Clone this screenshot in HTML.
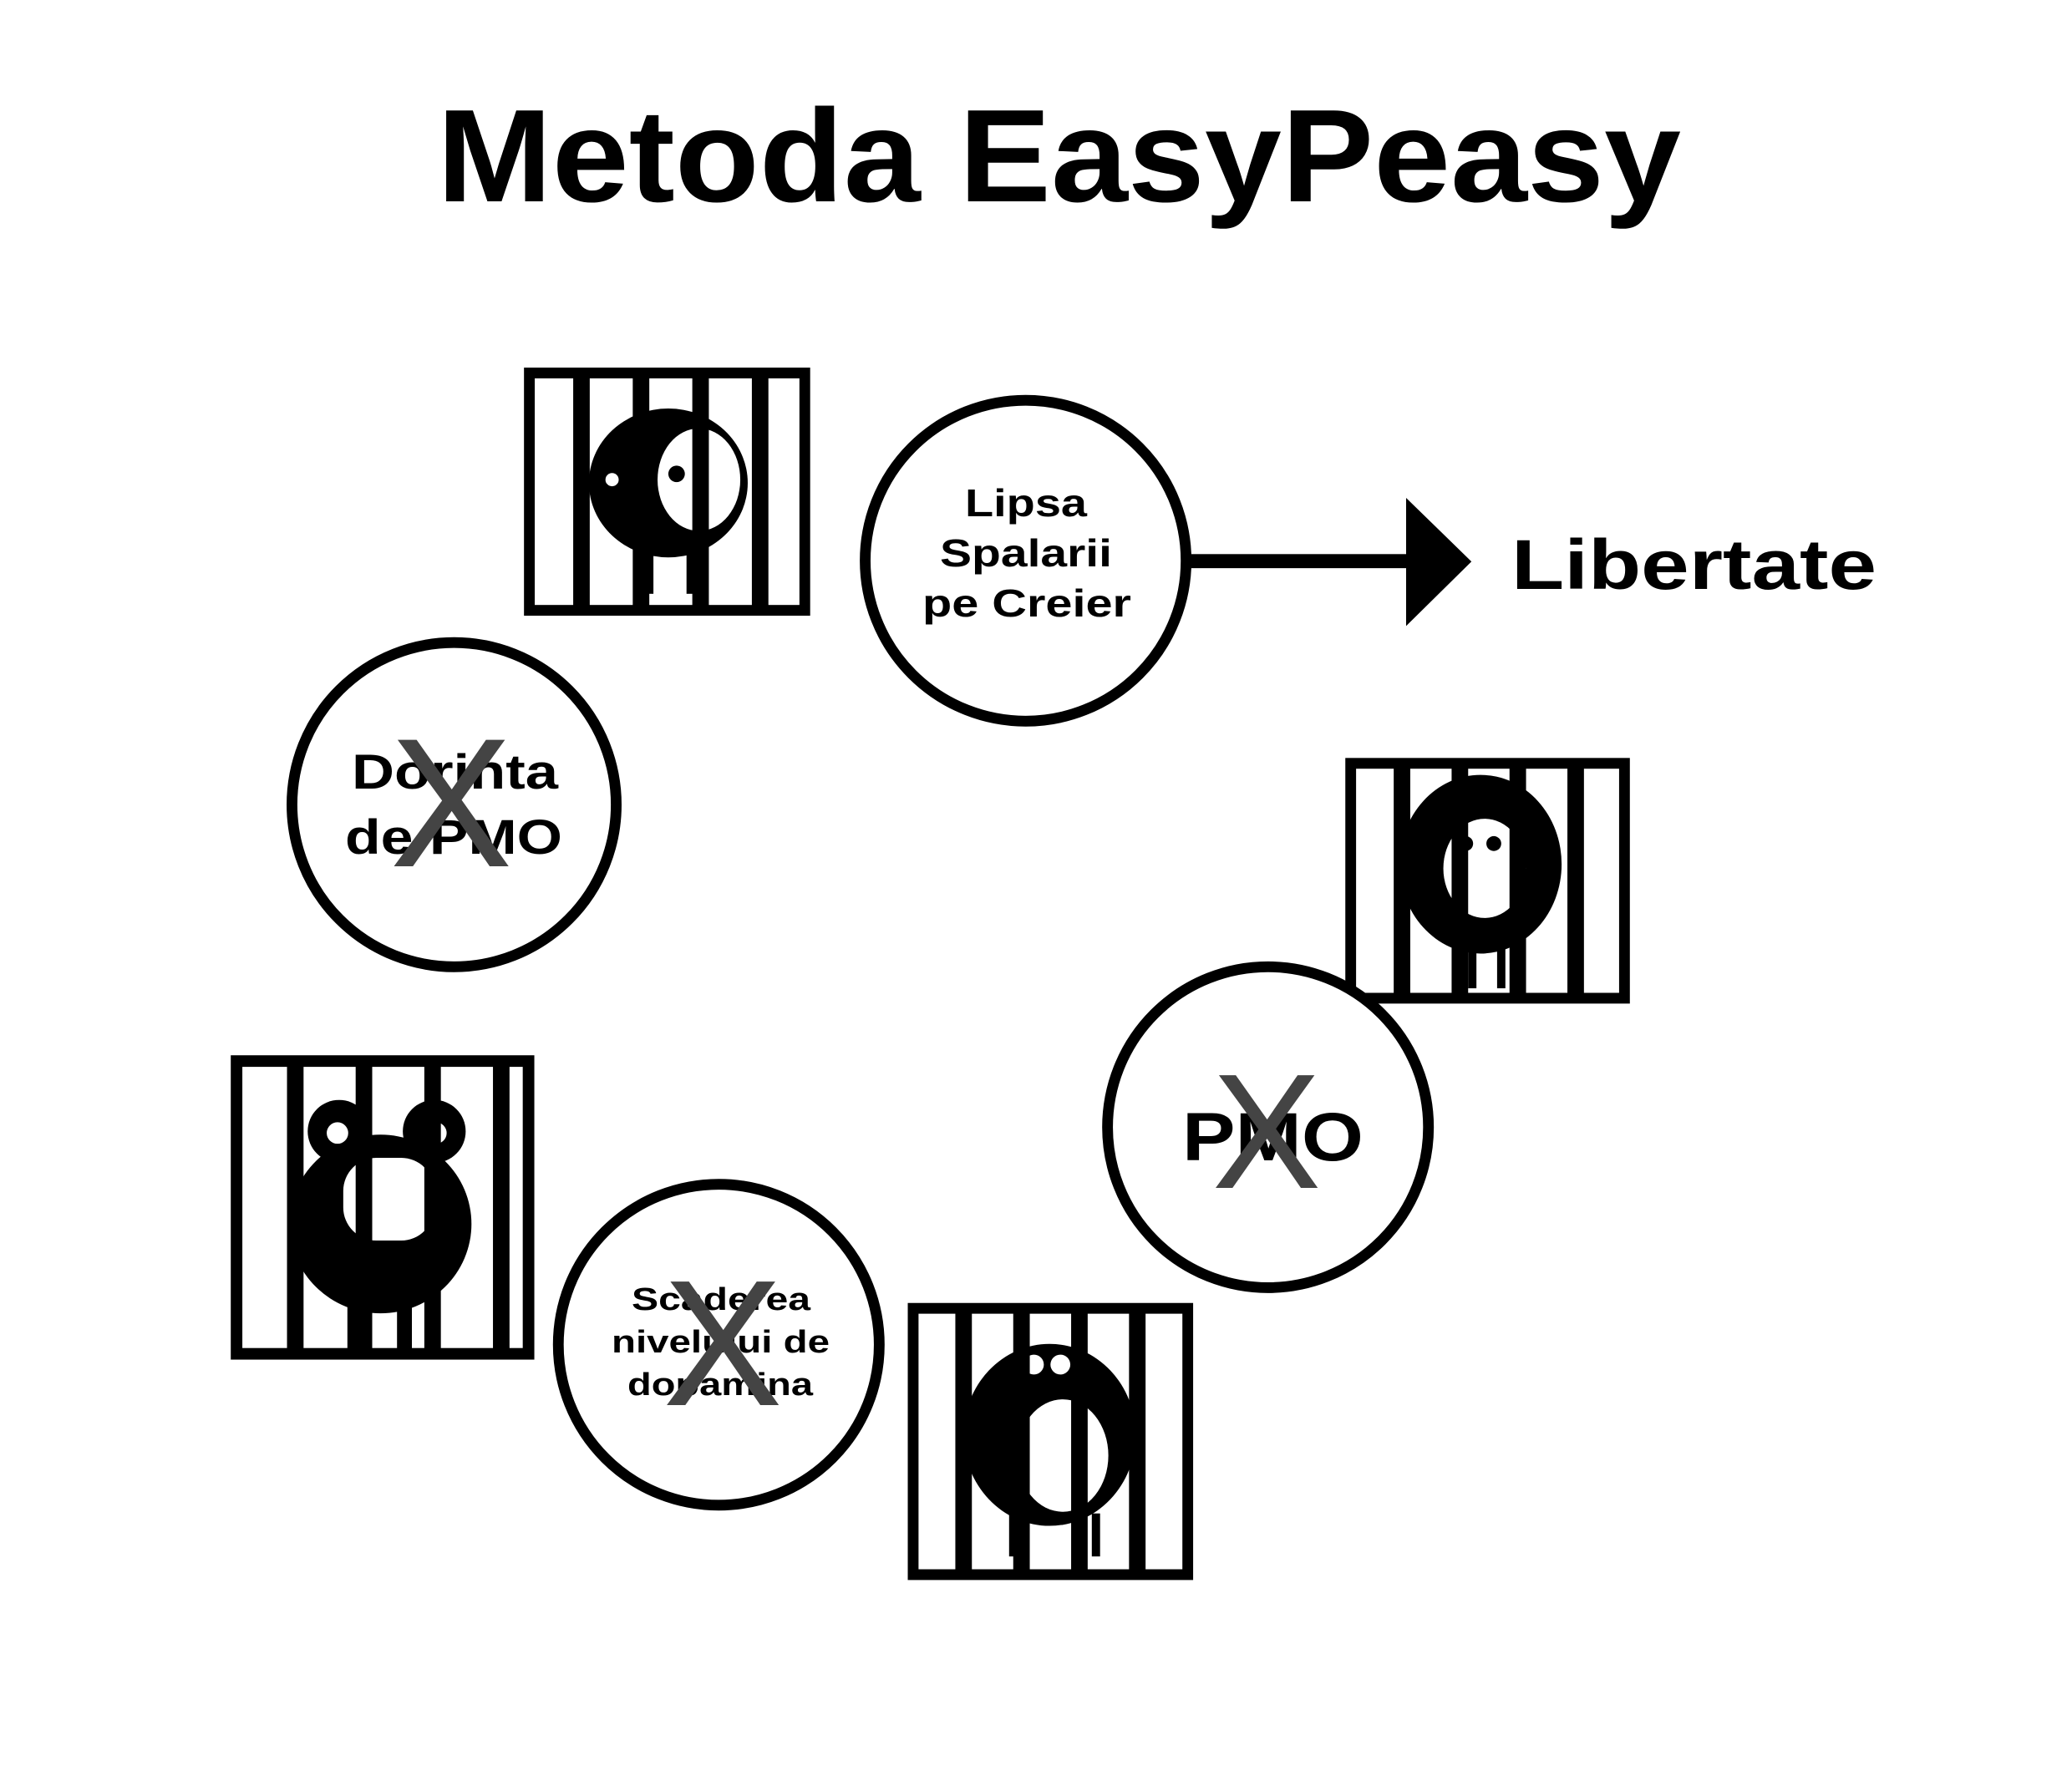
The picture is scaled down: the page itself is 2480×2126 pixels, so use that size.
<!DOCTYPE html>
<html><head><meta charset="utf-8"><style>
html,body{margin:0;padding:0;background:#fff;}
svg{display:block;}
text{font-family:"Liberation Sans",sans-serif;font-weight:bold;}
</style></head><body>
<svg width="2480" height="2126" viewBox="0 0 2480 2126" xmlns="http://www.w3.org/2000/svg">
<rect width="2480" height="2126" fill="#fff"/>
<text x="523" y="241" font-size="158" textLength="1489" lengthAdjust="spacingAndGlyphs">Metoda EasyPeasy</text>

<g transform="scale(0.99)">
<!-- Cage 1 -->
<rect x="640" y="451" width="333" height="287" fill="#fff"/>
<ellipse cx="808" cy="584" rx="96" ry="90" fill="#000"/>
<ellipse cx="845" cy="580" rx="50" ry="62" fill="#fff"/>
<circle cx="740" cy="580" r="8" fill="#fff"/>
<circle cx="818" cy="573" r="10" fill="#000"/>
<rect x="780" y="668" width="10" height="50" fill="#000"/>
<rect x="830" y="668" width="10" height="50" fill="#000"/>
<rect x="693" y="451" width="20" height="287" fill="#000"/>
<rect x="765" y="451" width="20" height="287" fill="#000"/>
<rect x="837" y="451" width="20" height="287" fill="#000"/>
<rect x="909" y="451" width="20" height="287" fill="#000"/>
<rect x="640" y="451" width="333" height="287" fill="none" stroke="#000" stroke-width="13"/>

<circle cx="1240" cy="678" r="194" fill="#fff" stroke="#000" stroke-width="13"/>
<rect x="1440" y="670" width="265" height="17" fill="#000"/>
<polygon points="1700,602 1779,679 1700,757" fill="#000"/>

<circle cx="549" cy="973" r="196" fill="#fff" stroke="#000" stroke-width="13"/>

<!-- Cage 2 -->
<rect x="286" y="1283" width="353" height="354" fill="#fff"/>
<circle cx="410" cy="1368" r="38" fill="#000"/>
<circle cx="525" cy="1368" r="38" fill="#000"/>
<circle cx="408" cy="1370" r="13" fill="#fff"/>
<circle cx="527" cy="1370" r="13" fill="#fff"/>
<ellipse cx="460" cy="1480" rx="110" ry="108" fill="#000"/>
<rect x="415" y="1400" width="110" height="100" rx="40" fill="#fff"/>
<rect x="420" y="1580" width="18" height="55" fill="#000"/>
<rect x="480" y="1580" width="18" height="55" fill="#000"/>
<rect x="347" y="1283" width="20" height="354" fill="#000"/>
<rect x="430" y="1283" width="20" height="354" fill="#000"/>
<rect x="513" y="1283" width="20" height="354" fill="#000"/>
<rect x="596" y="1283" width="20" height="354" fill="#000"/>
<rect x="286" y="1283" width="353" height="354" fill="none" stroke="#000" stroke-width="14"/>

<circle cx="869" cy="1626" r="194" fill="#fff" stroke="#000" stroke-width="13"/>

<!-- Cage 3 -->
<rect x="1104" y="1582" width="332" height="322" fill="#fff"/>
<ellipse cx="1269" cy="1735" rx="104" ry="110" fill="#000"/>
<ellipse cx="1285" cy="1760" rx="55" ry="68" fill="#fff"/>
<circle cx="1250" cy="1650" r="12" fill="#fff"/>
<circle cx="1282" cy="1650" r="12" fill="#fff"/>
<rect x="1220" y="1830" width="10" height="52" fill="#000"/>
<rect x="1320" y="1830" width="10" height="52" fill="#000"/>
<rect x="1155" y="1582" width="20" height="322" fill="#000"/>
<rect x="1225" y="1582" width="20" height="322" fill="#000"/>
<rect x="1295" y="1582" width="20" height="322" fill="#000"/>
<rect x="1365" y="1582" width="20" height="322" fill="#000"/>
<rect x="1104" y="1582" width="332" height="322" fill="none" stroke="#000" stroke-width="13"/>

<!-- Cage 4 -->
<rect x="1633" y="923" width="331" height="284" fill="#fff"/>
<ellipse cx="1790" cy="1045" rx="98" ry="108" fill="#000"/>
<ellipse cx="1795" cy="1050" rx="50" ry="60" fill="#fff"/>
<circle cx="1772" cy="1020" r="9" fill="#000"/>
<circle cx="1806" cy="1020" r="9" fill="#000"/>
<rect x="1775" y="1145" width="10" height="50" fill="#000"/>
<rect x="1810" y="1145" width="10" height="50" fill="#000"/>
<rect x="1685" y="923" width="20" height="284" fill="#000"/>
<rect x="1755" y="923" width="20" height="284" fill="#000"/>
<rect x="1825" y="923" width="20" height="284" fill="#000"/>
<rect x="1895" y="923" width="20" height="284" fill="#000"/>
<rect x="1633" y="923" width="331" height="284" fill="none" stroke="#000" stroke-width="13"/>

<circle cx="1533" cy="1363" r="194" fill="#fff" stroke="#000" stroke-width="13"/>
</g>

<!-- Lipsa text -->
<text x="1155" y="618" font-size="46" textLength="146" lengthAdjust="spacingAndGlyphs">Lipsa</text>
<text x="1125" y="678" font-size="46" textLength="206" lengthAdjust="spacingAndGlyphs">Spalarii</text>
<text x="1104" y="738" font-size="46" textLength="250" lengthAdjust="spacingAndGlyphs">pe Creier</text>
<text x="1809" y="705" font-size="84" textLength="437" lengthAdjust="spacingAndGlyphs">Libertate</text>

<!-- Dorinta -->
<text x="421" y="944" font-size="58" textLength="247" lengthAdjust="spacingAndGlyphs">Dorinta</text>
<text x="413" y="1022" font-size="58" textLength="260" lengthAdjust="spacingAndGlyphs">de PMO</text>
<text x="540" y="1037" font-size="220" fill="#444" text-anchor="middle" style="font-weight:normal">X</text>

<!-- Scaderea -->
<text x="756" y="1568" font-size="38" textLength="214" lengthAdjust="spacingAndGlyphs">Scaderea</text>
<text x="732" y="1619" font-size="38" textLength="261" lengthAdjust="spacingAndGlyphs">nivelului de</text>
<text x="751" y="1670" font-size="38" textLength="222" lengthAdjust="spacingAndGlyphs">dopamina</text>
<text x="865" y="1682" font-size="215" fill="#444" text-anchor="middle" style="font-weight:normal">X</text>

<!-- PMO -->
<text x="1415" y="1389" font-size="82" textLength="217" lengthAdjust="spacingAndGlyphs">PMO</text>
<text x="1516" y="1422" font-size="196" fill="#444" text-anchor="middle" style="font-weight:normal">X</text>
</svg>
</body></html>
